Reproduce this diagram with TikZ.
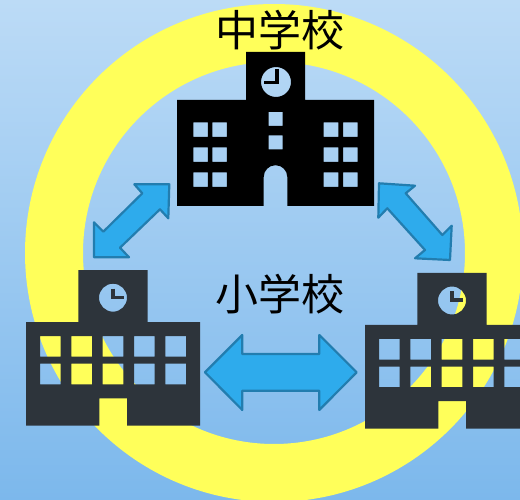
\documentclass[tikz,border=0pt]{standalone}
\usepackage{fontspec}
\usepackage{xcolor}
\newfontfamily\cjk{Noto Sans CJK JP}
\definecolor{skytop}{RGB}{188,219,246}
\definecolor{skybottom}{RGB}{124,184,236}
\definecolor{ringyellow}{RGB}{255,255,90}
\definecolor{slate}{RGB}{45,52,59}
\definecolor{arrowfill}{RGB}{46,171,236}
\definecolor{arrowedge}{RGB}{34,125,175}
\tikzset{
    bigarrow/.style={fill=arrowfill,draw=arrowedge,line width=2.2pt,line join=round},
    schoollabel/.style={font=\cjk\fontsize{43}{43}\selectfont,text=black,inner sep=0pt},
    lowschool/.pic={
        \fill[slate,even odd rule] (26,322)--(78.3,322)--(78.3,270)--(147.7,270)--(147.7,322)--(200,322)--(200,425.7)
            --(127,425.7)--(127,398.3)--(99.3,398.3)--(99.3,425.7)--(26,425.7)--cycle
            (113,297.7) circle (14)
            foreach \wx in {40,71.3,102.7,134,165.3}{
                foreach \wy in {336,363.7}{
                    (\wx,\wy) rectangle ++(20.7,20.7)
                }
            };
        \draw[slate,line width=3.2pt] (113,288.5)--(113,297.2)--(124,297.2);
    }
}
\begin{document}
\begin{tikzpicture}[x=1pt,y=-1pt]
    \useasboundingbox (0,0) rectangle (520,500);
    \clip (0,0) rectangle (520,500);
    \shade[top color=skytop,bottom color=skybottom] (0,0) rectangle (520,500);
    \draw[ringyellow,line width=58pt] (274,253) circle (220);

    % junior high
    \fill[black,even odd rule] (177,100)--(246,100)--(246,52)--(305,52)--(305,100)--(374,100)--(374,206)
        --(287.3,206)--(287.3,177) arc (0:-180:11.8)--(263.7,206)--(177,206)--cycle
        (276,82) circle (15)
        foreach \wx in {193.3,212.3,323.7,343}{
            foreach \wy in {122.3,147.3,172.3}{
                (\wx,\wy) rectangle ++(14.6,14.6)
            }
        }
        (268.7,112) rectangle ++(14,14)
        (268.7,135.3) rectangle ++(14,14);
    \draw[black,line width=3.6pt] (277,69)--(277,82.5)--(263.5,82.5);

    % the two primary schools
    \pic at (0,0) {lowschool};
    \pic at (339,2.8) {lowschool};

    \draw[bigarrow] (205,372.3)--(242.3,335)--(242.3,354)--(319.3,354)--(319.3,335)--(356.7,372.3)
        --(319.3,410)--(319.3,390.7)--(242.3,390.7)--(242.3,410)--cycle;
    \draw[bigarrow] (169.3,184.3)--(168.3,218.3)--(160,209.3)--(120,247.7)--(129,257.3)--(94,257.3)
        --(94,222.3)--(103.3,231.7)--(142.3,193.3)--(134.3,184.3)--cycle;
    \draw[bigarrow] (379,183.3)--(415,185.7)--(405.7,193.3)--(442.3,235)--(451.7,225.7)--(450,260)
        --(415,258.3)--(425,250)--(387.3,208.3)--(378.3,217.7)--cycle;

    \node[schoollabel] (juniorlabel) at (280,30) {中学校};
    \node[schoollabel] (primarylabel) at (279.5,294) {小学校};
\end{tikzpicture}
\end{document}
